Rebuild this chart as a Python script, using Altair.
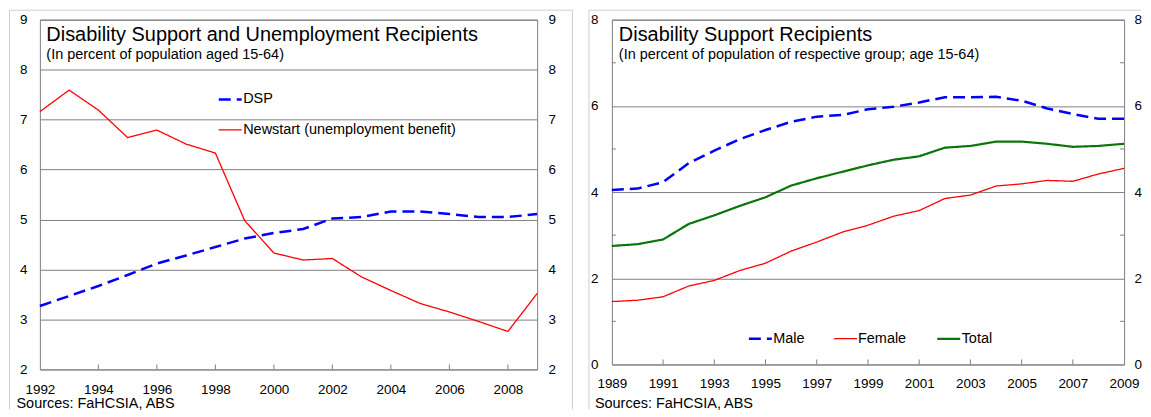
import altair as alt
import pandas as pd

FONT = "Liberation Sans"
GRID = "#808080"
FRAME = "#CFCFCF"

# ---------------- data ----------------
years_left = list(range(1992, 2010))
dsp = [3.27, 3.47, 3.67, 3.89, 4.12, 4.28, 4.45, 4.62, 4.73, 4.81,
       5.02, 5.05, 5.16, 5.16, 5.11, 5.05, 5.05, 5.11]
newstart = [7.16, 7.59, 7.19, 6.64, 6.79, 6.51, 6.33, 4.98, 4.33, 4.19,
            4.22, 3.85, 3.58, 3.32, 3.15, 2.96, 2.76, 3.52]
left_series = ["DSP", "Newstart (unemployment benefit)"]

years_right = list(range(1989, 2010))
male = [4.05, 4.08, 4.23, 4.67, 4.96, 5.23, 5.44, 5.63, 5.75, 5.79, 5.92,
        5.98, 6.08, 6.20, 6.20, 6.21, 6.12, 5.94, 5.81, 5.70, 5.70]
female = [1.46, 1.49, 1.57, 1.82, 1.95, 2.18, 2.35, 2.63, 2.84, 3.07, 3.23,
          3.44, 3.57, 3.85, 3.93, 4.14, 4.19, 4.27, 4.25, 4.42, 4.55]
total = [2.75, 2.79, 2.90, 3.26, 3.46, 3.68, 3.88, 4.15, 4.32, 4.47, 4.62,
         4.75, 4.83, 5.03, 5.07, 5.17, 5.17, 5.12, 5.05, 5.07, 5.12]
right_series = ["Male", "Female", "Total"]

left_y_ticks = [2, 3, 4, 5, 6, 7, 8, 9]
left_x_labels = list(range(1992, 2009, 2))
left_x_inner_ticks = list(range(1994, 2009, 2))
right_y_labels = [0, 2, 4, 6, 8]
right_y_minor = [1, 3, 5, 7]
right_x_labels = list(range(1989, 2010, 2))
right_x_inner_ticks = list(range(1991, 2008, 2))

left_title = "Disability Support and Unemployment Recipients"
left_subtitle = "(In percent of population aged 15-64)"
right_title = "Disability Support Recipients"
right_subtitle = "(In percent of population of respective group; age 15-64)"
source_text = "Sources: FaHCSIA, ABS"

W1, H1 = 499, 351
W2, H2 = 514, 346

one = pd.DataFrame({"k": [0]})


def frame(width, left, right_extra=None, top=-9.5, bottom=391):
    base = alt.Chart(one).mark_rule(color=FRAME, strokeWidth=1)
    layers = [base.encode(x=alt.value(left), y=alt.value(top), y2=alt.value(bottom))]
    if right_extra is not None:
        layers.append(base.encode(x=alt.value(width + right_extra), y=alt.value(top), y2=alt.value(bottom)))
        layers.append(base.encode(x=alt.value(left), x2=alt.value(width + right_extra), y=alt.value(top)))
    else:
        layers.append(base.encode(x=alt.value(left), x2=alt.value(width + 17), y=alt.value(top)))
    return layers


def texts(title, subtitle, tx, sx, sy):
    base = alt.Chart(one)
    t1 = base.mark_text(align="left", baseline="middle", font=FONT, fontSize=20,
                        color="black").encode(x=alt.value(tx), y=alt.value(15), text=alt.value(title))
    t2 = base.mark_text(align="left", baseline="middle", font=FONT, fontSize=14.5,
                        color="black").encode(x=alt.value(tx), y=alt.value(35), text=alt.value(subtitle))
    t3 = base.mark_text(align="left", baseline="middle", font=FONT, fontSize=14.5,
                        color="black").encode(x=alt.value(sx), y=alt.value(sy), text=alt.value(source_text))
    return [t1, t2, t3]


# ---------------- left panel ----------------
df_l = pd.DataFrame({
    "year": years_left * 2,
    "value": dsp + newstart,
    "series": [left_series[0]] * len(years_left) + [left_series[1]] * len(years_left),
})
xl_scale = alt.Scale(domain=[1992, 2009], nice=False, zero=False)
yl_scale = alt.Scale(domain=[2, 9], nice=False, zero=False)
xl = alt.X("year:Q", scale=xl_scale,
           axis=alt.Axis(values=left_x_labels, format="d", grid=False, ticks=False,
                         domain=False, labelPadding=13, labelFlush=False, title=None))

leg_l = alt.Legend(orient="none", legendX=178, legendY=67, direction="vertical", title=None,
                   symbolType="stroke", symbolSize=529, symbolStrokeWidth=2,
                   labelFontSize=14.5, labelFont=FONT, labelColor="black", labelOffset=0,
                   rowPadding=11, padding=0, labelLimit=400)

lines_l = alt.Chart(df_l).mark_line().encode(
    x=xl,
    y=alt.Y("value:Q", scale=yl_scale,
            axis=alt.Axis(values=left_y_ticks, grid=True, gridColor=GRID, ticks=False,
                          domain=False, labelPadding=13, labelFlush=False, title=None)),
    color=alt.Color("series:N", scale=alt.Scale(domain=left_series, range=["#0000FF", "#FF0000"]),
                    legend=leg_l),
    strokeDash=alt.StrokeDash("series:N", scale=alt.Scale(domain=left_series, range=[[12, 6], [1, 0]]),
                              legend=leg_l),
    strokeWidth=alt.StrokeWidth("series:N", scale=alt.Scale(type="ordinal", domain=left_series,
                                                            range=[2.5, 1.3]),
                                legend=None),
)
right_axis_l = alt.Chart(df_l).mark_line(opacity=0).encode(
    x=xl,
    y=alt.Y("value:Q", scale=yl_scale,
            axis=alt.Axis(orient="right", values=left_y_ticks, grid=False, ticks=False,
                          domain=False, labelPadding=11, labelFlush=False, title=None)),
)
ticks_l = alt.Chart(pd.DataFrame({"year": left_x_inner_ticks})).mark_rule(color=GRID).encode(
    x=xl, y=alt.value(H1), y2=alt.value(H1 - 5))

left = alt.layer(
    *frame(W1, -30.5, 35.5),
    *texts(left_title, left_subtitle, 6.5, -23.5, 386),
    ticks_l, lines_l, right_axis_l,
).resolve_axis(y="independent").properties(width=W1, height=H1)

# ---------------- right panel ----------------
n = len(years_right)
df_r = pd.DataFrame({
    "year": years_right * 3,
    "value": male + female + total,
    "series": [right_series[0]] * n + [right_series[1]] * n + [right_series[2]] * n,
})
xr_scale = alt.Scale(domain=[1989, 2009], nice=False, zero=False)
yr_scale = alt.Scale(domain=[0, 8], nice=False, zero=False)
xr = alt.X("year:Q", scale=xr_scale,
           axis=alt.Axis(values=right_x_labels, format="d", grid=False, ticks=False,
                         domain=False, labelPadding=12, labelFlush=False, title=None))

leg_r = alt.Legend(orient="none", legendX=136, legendY=307, direction="horizontal", title=None,
                   symbolType="stroke", symbolSize=529, symbolStrokeWidth=2,
                   labelFontSize=14.5, labelFont=FONT, labelColor="black", labelOffset=0,
                   columnPadding=26, padding=0, labelLimit=400)

lines_r = alt.Chart(df_r).mark_line().encode(
    x=xr,
    y=alt.Y("value:Q", scale=yr_scale,
            axis=alt.Axis(values=right_y_labels, grid=True, gridColor=GRID, ticks=False,
                          domain=False, labelPadding=14, labelFlush=False, title=None)),
    color=alt.Color("series:N", scale=alt.Scale(domain=right_series,
                                                range=["#0000FF", "#FF0000", "#0A760A"]),
                    legend=leg_r),
    strokeDash=alt.StrokeDash("series:N", scale=alt.Scale(domain=right_series,
                                                          range=[[12, 6], [1, 0], [1, 0]]),
                              legend=leg_r),
    strokeWidth=alt.StrokeWidth("series:N", scale=alt.Scale(type="ordinal", domain=right_series,
                                                            range=[2.5, 1.3, 2.2]),
                                legend=None),
)
right_axis_r = alt.Chart(df_r).mark_line(opacity=0).encode(
    x=xr,
    y=alt.Y("value:Q", scale=yr_scale,
            axis=alt.Axis(orient="right", values=right_y_labels, grid=False, ticks=False,
                          domain=False, labelPadding=10, labelFlush=False, title=None)),
)
ticks_r = alt.Chart(pd.DataFrame({"year": right_x_inner_ticks})).mark_rule(color=GRID).encode(
    x=xr, y=alt.value(H2), y2=alt.value(H2 - 5))
minor_df = pd.DataFrame({"v": right_y_minor})
minor_l = alt.Chart(minor_df).mark_rule(color=GRID).encode(
    y=alt.Y("v:Q", scale=yr_scale, axis=None), x=alt.value(0), x2=alt.value(4))
minor_rr = alt.Chart(minor_df).mark_rule(color=GRID).encode(
    y=alt.Y("v:Q", scale=yr_scale, axis=None), x=alt.value(W2 - 4), x2=alt.value(W2))

right = alt.layer(
    *frame(W2, -23),
    *texts(right_title, right_subtitle, 7, -17, 386),
    ticks_r, minor_l, minor_rr, lines_r, right_axis_r,
).resolve_axis(y="independent").properties(width=W2, height=H2)

chart = alt.hconcat(left, right, spacing=14).resolve_scale(
    x="independent", y="independent", color="independent",
    strokeDash="independent", strokeWidth="independent",
).resolve_legend(color="independent", strokeDash="independent").properties(
    padding=0, background="white"
).configure_view(stroke=GRID, strokeWidth=1).configure_axis(
    labelFont=FONT, labelFontSize=13.5, labelColor="black"
)

chart.save("out.html", embed_options={"renderer": "svg", "actions": False})
